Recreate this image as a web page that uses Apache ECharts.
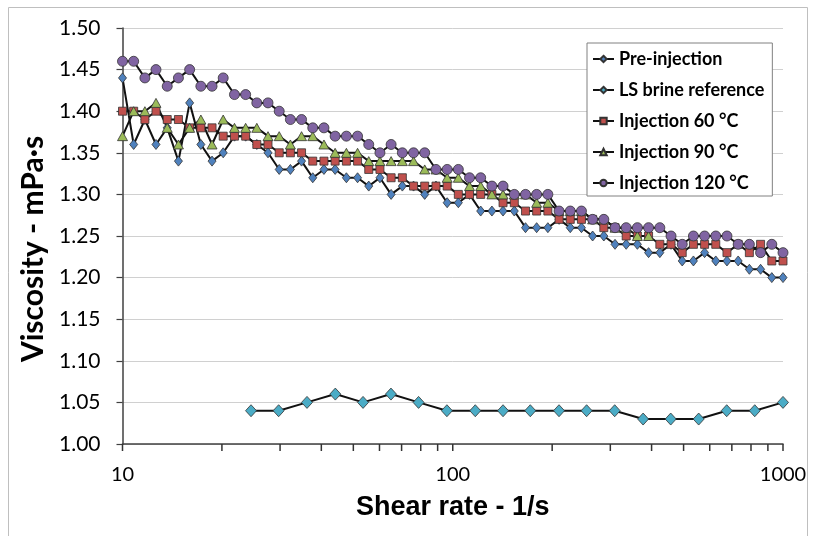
<!DOCTYPE html>
<html><head><meta charset="utf-8">
<script src="https://cdn.jsdelivr.net/npm/echarts@6/dist/echarts.min.js"></script>
<style>html,body{margin:0;padding:0;background:#fff}#c{width:816px;height:536px}</style>
</head><body><div id="c"></div>
<script>
// Shear rates (1/s)
const shearRate = [10.00, 10.81, 11.69, 12.63, 13.66, 14.77, 15.97, 17.27, 18.67, 20.18,
  21.83, 23.60, 25.51, 27.58, 29.82, 32.24, 34.85, 37.68, 40.74, 44.04,
  47.64, 51.50, 55.67, 60.19, 65.07, 70.37, 76.08, 82.24, 88.96, 96.18,
  103.97, 112.4, 121.5, 131.4, 142.0, 153.6, 166.1, 179.5, 194.1, 209.9,
  226.9, 245.3, 265.2, 286.7, 310.0, 335.1, 362.3, 391.7, 423.7, 458.1,
  495.3, 535.5, 578.9, 625.8, 676.6, 731.5, 791.0, 855.3, 924.9, 1000];
const lsShearRate = [24.5, 29.7, 36.2, 44.1, 53.5, 65.0, 78.8, 96.0, 117.0, 142.0,
  171.7, 209.8, 254.3, 309.3, 377.1, 457.1, 555.5, 675.4, 821.2, 1000];

const preInjection = [1.44, 1.36, 1.39, 1.36, 1.38, 1.34, 1.41, 1.36, 1.34, 1.35,
  1.37, 1.37, 1.36, 1.35, 1.33, 1.33, 1.34, 1.32, 1.33, 1.33,
  1.32, 1.32, 1.31, 1.32, 1.30, 1.31, 1.31, 1.30, 1.31, 1.29,
  1.29, 1.30, 1.28, 1.28, 1.28, 1.28, 1.26, 1.26, 1.26, 1.27,
  1.26, 1.26, 1.25, 1.25, 1.24, 1.24, 1.24, 1.23, 1.23, 1.24,
  1.22, 1.22, 1.23, 1.22, 1.22, 1.22, 1.21, 1.21, 1.20, 1.20];
const lsBrine = [1.04, 1.04, 1.05, 1.06, 1.05, 1.06, 1.05, 1.04, 1.04, 1.04,
  1.04, 1.04, 1.04, 1.04, 1.03, 1.03, 1.03, 1.04, 1.04, 1.05];
const inj60 = [1.40, 1.40, 1.39, 1.40, 1.39, 1.39, 1.38, 1.38, 1.38, 1.37,
  1.37, 1.37, 1.36, 1.36, 1.35, 1.35, 1.35, 1.34, 1.34, 1.34,
  1.34, 1.34, 1.33, 1.33, 1.32, 1.32, 1.31, 1.31, 1.31, 1.31,
  1.30, 1.30, 1.30, 1.30, 1.29, 1.29, 1.28, 1.28, 1.28, 1.27,
  1.27, 1.27, 1.27, 1.26, 1.26, 1.25, 1.25, 1.25, 1.24, 1.24,
  1.23, 1.24, 1.24, 1.24, 1.23, 1.24, 1.23, 1.24, 1.22, 1.22];
const inj90 = [1.37, 1.40, 1.40, 1.41, 1.38, 1.36, 1.38, 1.39, 1.36, 1.39,
  1.38, 1.38, 1.38, 1.37, 1.37, 1.36, 1.37, 1.37, 1.36, 1.35,
  1.35, 1.35, 1.34, 1.34, 1.34, 1.34, 1.34, 1.33, 1.33, 1.32,
  1.32, 1.31, 1.31, 1.30, 1.30, 1.30, 1.30, 1.29, 1.29, 1.28,
  1.28, 1.28, 1.27, 1.27, 1.26, 1.26, 1.25, 1.25];
const inj120 = [1.46, 1.46, 1.44, 1.45, 1.43, 1.44, 1.45, 1.43, 1.43, 1.44,
  1.42, 1.42, 1.41, 1.41, 1.40, 1.39, 1.39, 1.38, 1.38, 1.37,
  1.37, 1.37, 1.36, 1.35, 1.36, 1.35, 1.35, 1.35, 1.33, 1.33,
  1.33, 1.32, 1.32, 1.31, 1.31, 1.30, 1.30, 1.30, 1.30, 1.28,
  1.28, 1.28, 1.27, 1.27, 1.26, 1.26, 1.26, 1.26, 1.26, 1.25,
  1.24, 1.25, 1.25, 1.25, 1.25, 1.24, 1.24, 1.23, 1.24, 1.23];

const xTickValues = [10, 20, 30, 40, 50, 60, 70, 80, 90, 100, 200, 300, 400, 500, 600, 700, 800, 900, 1000];
const xMin = 10, xMax = 1000;
const yMin = 1.0, yMax = 1.5, yStep = 0.05;

const pair = (xs, ys) => ys.map((y, i) => [xs[i], y]);
const lineStyle = { color: '#111', width: 2 };
const mk = (name, xs, ys, symbol, size, color) => ({
  name, type: 'line', xAxisIndex: 0, yAxisIndex: 0, data: pair(xs, ys), symbol, symbolSize: size,
  showAllSymbol: true,
  lineStyle, itemStyle: { color, borderColor: '#333', borderWidth: 0.8 },
  emphasis: { disabled: true }, animation: false
});
const axisColor = '#404040';

const chart = echarts.init(document.getElementById('c'), null, { renderer: 'canvas' });
chart.setOption({
  animation: false,
  backgroundColor: '#fff',
  graphic: [{ type: 'rect', shape: { x: 8.5, y: 7.5, width: 799, height: 540 },
    style: { fill: 'none', stroke: '#bfbfbf', lineWidth: 1 }, silent: true, z: -10 }],
  grid: [
    { left: 122.5, right: 33, top: 28, bottom: 92 },
    { left: 122.5, right: 33, top: 444, height: 7 }
  ],
  legend: {
    left: 587, top: 43, orient: 'vertical',
    backgroundColor: '#fff', borderColor: '#808080', borderWidth: 1,
    padding: [6, 8, 3, 5], itemWidth: 21, itemHeight: 8, itemGap: 11,
    textStyle: { fontFamily: 'Lato', fontWeight: 'bold', fontSize: 18, color: '#000', lineHeight: 20 },
    data: ['Pre-injection', 'LS brine reference', 'Injection 60 °C', 'Injection 90 °C', 'Injection 120 °C']
  },
  xAxis: [{
    gridIndex: 0, type: 'log', logBase: 10, min: xMin, max: xMax,
    name: 'Shear rate - 1/s', nameLocation: 'middle', nameGap: 50,
    nameTextStyle: { fontFamily: 'Liberation Sans', fontWeight: 'bold', fontSize: 27, color: '#000' },
    axisLine: { lineStyle: { color: axisColor, width: 1.5 } },
    axisTick: { show: false },
    minorTick: { show: false },
    axisLabel: { fontFamily: 'Lato', fontSize: 20, color: '#000', margin: 21, formatter: v => String(v) },
    splitLine: { show: false }
  }, {
    gridIndex: 1, type: 'log', logBase: 10, min: xMin, max: xMax, show: false
  }],
  yAxis: [{
    gridIndex: 0, type: 'value', min: yMin, max: yMax, interval: yStep,
    name: 'Viscosity - mPa·s', nameLocation: 'middle', nameGap: 64, nameRotate: 90,
    nameTextStyle: { fontFamily: 'Lato', fontWeight: 'bold', fontSize: 30, color: '#000', padding: [0, 26, 0, 0] },
    axisLine: { show: true, lineStyle: { color: axisColor, width: 1.5 } },
    axisTick: { show: true, length: 6, lineStyle: { color: axisColor, width: 1.2 } },
    axisLabel: { fontFamily: 'Lato', fontSize: 21, color: '#000', margin: 22, formatter: v => v.toFixed(2) },
    splitLine: { show: true, lineStyle: { color: '#d0d0d0', width: 1 } }
  }, {
    gridIndex: 1, type: 'value', min: 0, max: 1, show: false
  }],
  series: [
    {
      name: 'xTicks', type: 'bar', xAxisIndex: 1, yAxisIndex: 1, silent: true,
      data: xTickValues.map(v => [v, 1]),
      barWidth: 1.5, itemStyle: { color: '#333' }, animation: false
    },
    mk('Pre-injection', shearRate, preInjection, 'diamond', [8, 10], '#4F81BD'),
    mk('LS brine reference', lsShearRate, lsBrine, 'diamond', [11, 12], '#4BACC6'),
    mk('Injection 60 °C', shearRate, inj60, 'rect', 8, '#C0504D'),
    mk('Injection 90 °C', shearRate, inj90, 'triangle', [10, 9], '#9BBB59'),
    mk('Injection 120 °C', shearRate, inj120, 'circle', 10, '#8064A2')
  ]
});
</script></body></html>
